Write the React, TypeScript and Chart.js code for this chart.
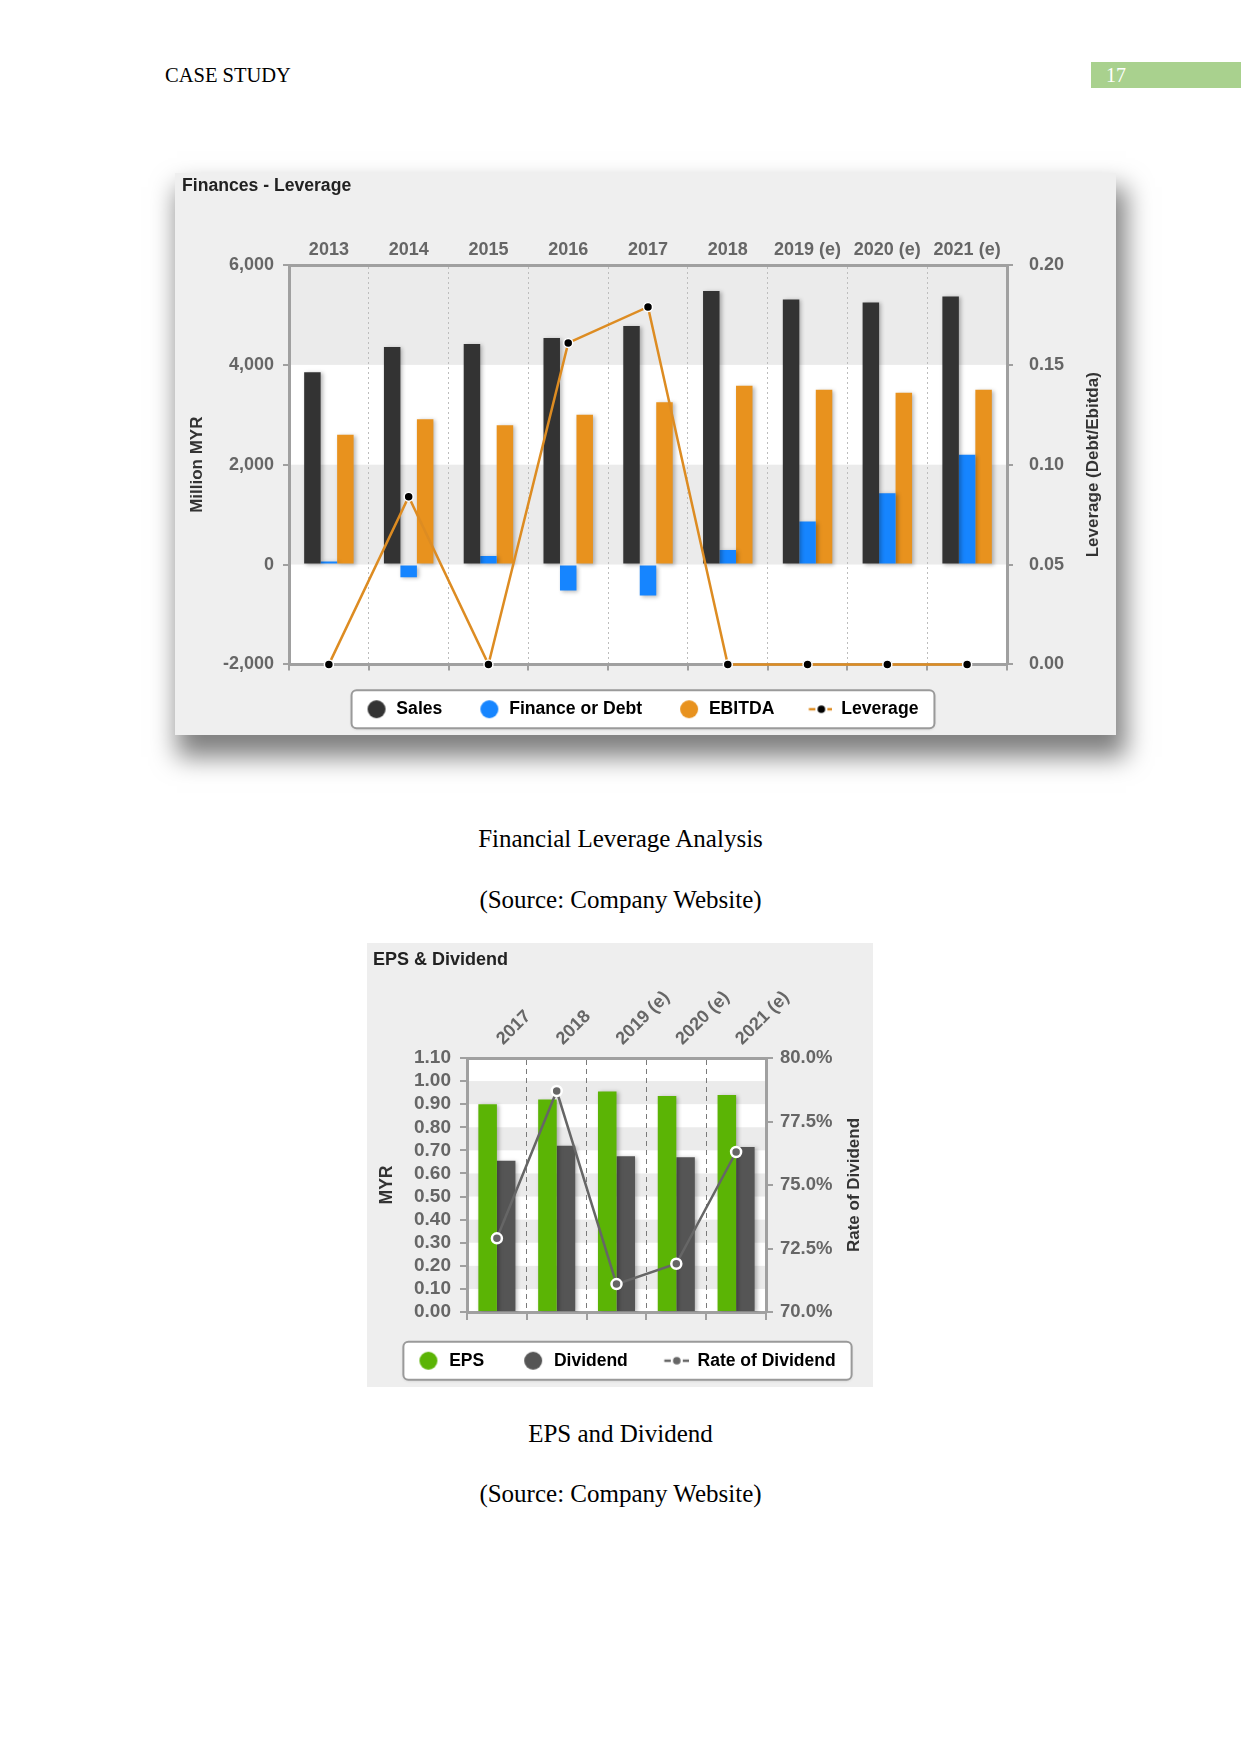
import React, { useEffect, useRef } from "react";
import { Chart, registerables } from "chart.js";

Chart.register(...registerables);

const FONT = "'Liberation Sans', Arial, Helvetica, sans-serif";
const SERIF = "'Liberation Serif', 'Times New Roman', serif";

// ---------- Chart 1: Finances - Leverage ----------
const leverageYears = ["2013", "2014", "2015", "2016", "2017", "2018", "2019 (e)", "2020 (e)", "2021 (e)"];
const salesValues = [3850, 4360, 4420, 4540, 4780, 5480, 5310, 5250, 5370];
const financeValues = [60, -255, 170, -520, -620, 290, 860, 1430, 2200];
const ebitdaValues = [2600, 2910, 2790, 3000, 3250, 3580, 3500, 3440, 3500];
const leverageValues = [0, 0.084, 0, 0.161, 0.179, 0, 0, 0, 0];
const leverageLeftTicks = [-2000, 0, 2000, 4000, 6000];
const leverageRightTicks = [0, 0.05, 0.1, 0.15, 0.2];

// ---------- Chart 2: EPS & Dividend ----------
const epsYears = ["2017", "2018", "2019 (e)", "2020 (e)", "2021 (e)"];
const epsValues = [0.9, 0.92, 0.955, 0.935, 0.94];
const dividendValues = [0.655, 0.72, 0.675, 0.67, 0.715];
const rateValues = [72.9, 78.7, 71.1, 71.9, 76.3];
const epsLeftTicks = [0, 0.1, 0.2, 0.3, 0.4, 0.5, 0.6, 0.7, 0.8, 0.9, 1.0, 1.1];
const epsRightTicks = [70, 72.5, 75, 77.5, 80];

const C1 = { sales: "#333333", finance: "#1685ff", ebitda: "#e8921e", line: "#dd8c22" };
const C2 = { eps: "#5bb405", dividend: "#555555", line: "#666666" };

function circleIcon(w: number, cx: number, color: string) {
  const c = document.createElement("canvas");
  c.width = w;
  c.height = 22;
  const g = c.getContext("2d")!;
  g.fillStyle = color;
  g.beginPath();
  g.arc(cx, 11, 9, 0, Math.PI * 2);
  g.fill();
  return c;
}

function lineIcon(w: number, cx: number, lineColor: string, dotColor: string) {
  const c = document.createElement("canvas");
  c.width = w;
  c.height = 22;
  const g = c.getContext("2d")!;
  g.strokeStyle = lineColor;
  g.lineWidth = 2.5;
  g.beginPath();
  g.moveTo(cx - 12.5, 11);
  g.lineTo(cx - 6, 11);
  g.moveTo(cx + 6, 11);
  g.lineTo(cx + 12.5, 11);
  g.stroke();
  g.fillStyle = dotColor;
  g.beginPath();
  g.arc(cx, 11, 3.8, 0, Math.PI * 2);
  g.fill();
  return c;
}

function bandsPlugin(bands: [number, number, string][], base: string) {
  return {
    id: "bands",
    beforeDraw(chart: any) {
      const { ctx, chartArea } = chart;
      const y = chart.scales.y;
      ctx.save();
      ctx.fillStyle = base;
      ctx.fillRect(chartArea.left, chartArea.top, chartArea.right - chartArea.left, chartArea.bottom - chartArea.top);
      bands.forEach(([a, b, col]) => {
        const p1 = y.getPixelForValue(a);
        const p2 = y.getPixelForValue(b);
        ctx.fillStyle = col;
        ctx.fillRect(chartArea.left, Math.min(p1, p2), chartArea.right - chartArea.left, Math.abs(p2 - p1));
      });
      ctx.restore();
    },
  };
}

function legendBoxPlugin(iconOffset: number, pad: number, fontSize: number) {
  return {
    id: "legendBox",
    beforeDraw(chart: any) {
      const lg = chart.legend;
      if (!lg || !lg.lineWidths) return;
      const ctx = chart.ctx;
      const x0 = (lg.left + pad + lg.right - lg.lineWidths[0]) / 2;
      const left = x0 + iconOffset - 9 - 16;
      const right = x0 + lg.lineWidths[0] - pad + 16;
      const cy = lg.top + pad + fontSize / 2;
      ctx.save();
      ctx.shadowColor = "rgba(0,0,0,0.18)";
      ctx.shadowBlur = 3;
      ctx.shadowOffsetY = 1;
      ctx.beginPath();
      (ctx as any).roundRect(left, cy - 19, right - left, 38, 5);
      ctx.fillStyle = "#ffffff";
      ctx.fill();
      ctx.shadowColor = "transparent";
      ctx.lineWidth = 2;
      ctx.strokeStyle = "#9a9a9a";
      ctx.stroke();
      ctx.restore();
    },
  };
}

function rightTitlePlugin(text: string, x: number, size: number) {
  return {
    id: "rightTitle",
    afterDraw(chart: any) {
      const { ctx, chartArea } = chart;
      ctx.save();
      ctx.translate(x, (chartArea.top + chartArea.bottom) / 2);
      ctx.rotate(-Math.PI / 2);
      ctx.textAlign = "center";
      ctx.textBaseline = "middle";
      ctx.fillStyle = "#333333";
      ctx.font = `bold ${size}px ${FONT}`;
      ctx.fillText(text, 0, 0);
      ctx.restore();
    },
  };
}

const barShadowPlugin = {
  id: "barShadow",
  beforeDatasetDraw(chart: any, args: any) {
    const ctx = chart.ctx;
    ctx.save();
    if (args.meta.type === "bar") {
      ctx.shadowColor = "rgba(0,0,0,0.28)";
      ctx.shadowBlur = 4;
      ctx.shadowOffsetX = 2;
      ctx.shadowOffsetY = 1;
    }
  },
  afterDatasetDraw(chart: any) {
    chart.ctx.restore();
  },
};

function LeverageChart() {
  const ref = useRef<HTMLCanvasElement>(null);
  useEffect(() => {
    const tickFont = { family: FONT, size: 18, weight: "bold" as const };
    const axisCommon = {
      grid: { drawOnChartArea: false, drawTicks: true, tickLength: 6, color: "#a0a0a0", lineWidth: 2 },
      border: { display: true, color: "#a0a0a0", width: 3 },
    };
    const chart = new Chart(ref.current!, {
      type: "bar",
      data: {
        labels: leverageYears,
        datasets: [
          { type: "line" as const, label: "Leverage", data: leverageValues, xAxisID: "x", yAxisID: "y1", borderColor: C1.line, borderWidth: 2.5, pointRadius: 4.5, pointBackgroundColor: "#000", pointBorderColor: "#fff", pointBorderWidth: 1.5, tension: 0, order: 0, clip: false as any },
          { label: "Sales", data: salesValues, backgroundColor: C1.sales, xAxisID: "x", yAxisID: "y", order: 1, categoryPercentage: 0.62, barPercentage: 1 },
          { label: "Finance or Debt", data: financeValues, backgroundColor: C1.finance, xAxisID: "x", yAxisID: "y", order: 1, categoryPercentage: 0.62, barPercentage: 1 },
          { label: "EBITDA", data: ebitdaValues, backgroundColor: C1.ebitda, xAxisID: "x", yAxisID: "y", order: 1, categoryPercentage: 0.62, barPercentage: 1 },
        ],
      },
      options: {
        animation: false,
        responsive: false,
        devicePixelRatio: 1,
        layout: { padding: { left: 7, right: 40, top: 0, bottom: 7 } },
        plugins: {
          title: { display: true, text: "Finances - Leverage", align: "start", color: "#222222", font: { family: FONT, size: 17.6, weight: "bold" }, padding: { top: 2.5, bottom: 0 } },
          legend: {
            position: "bottom",
            labels: {
              usePointStyle: true,
              pointStyleWidth: 48,
              padding: 10,
              color: "#3a3a3a",
              font: { family: FONT, size: 17.6, weight: "bold" },
              generateLabels: () => [
                { text: "Sales", pointStyle: circleIcon(48, 37, C1.sales) as any, fillStyle: C1.sales, strokeStyle: C1.sales, lineWidth: 0, hidden: false, datasetIndex: 1 },
                { text: "Finance or Debt", pointStyle: circleIcon(48, 37, C1.finance) as any, fillStyle: C1.finance, strokeStyle: C1.finance, lineWidth: 0, hidden: false, datasetIndex: 2 },
                { text: "EBITDA", pointStyle: circleIcon(48, 37, C1.ebitda) as any, fillStyle: C1.ebitda, strokeStyle: C1.ebitda, lineWidth: 0, hidden: false, datasetIndex: 3 },
                { text: "Leverage", pointStyle: lineIcon(48, 37, C1.line, "#000") as any, fillStyle: C1.line, strokeStyle: C1.line, lineWidth: 0, hidden: false, datasetIndex: 0 },
              ],
            },
          },
          tooltip: { enabled: false },
        },
        scales: {
          x: {
            type: "category",
            position: "top",
            offset: true,
            grid: { offset: true, drawOnChartArea: true, drawTicks: false, color: "#bdbdbd", lineWidth: 1 },
            border: { display: true, color: "#a0a0a0", width: 3, dash: [2, 3] },
            ticks: { color: "#666666", font: tickFont, padding: 4, maxRotation: 0, autoSkip: false },
            afterFit: (s: any) => { s.height = 68.4; },
          },
          x2: {
            type: "category",
            position: "bottom",
            offset: true,
            labels: leverageYears,
            grid: { offset: true, drawOnChartArea: false, drawTicks: true, tickLength: 6, color: "#a0a0a0", lineWidth: 2 },
            border: { display: true, color: "#a0a0a0", width: 3 },
            ticks: { display: false },
            afterFit: (s: any) => { s.height = 26; },
          },
          y: {
            position: "left",
            min: leverageLeftTicks[0],
            max: leverageLeftTicks[leverageLeftTicks.length - 1],
            afterBuildTicks: (s: any) => { s.ticks = leverageLeftTicks.map((v) => ({ value: v })); },
            ticks: { color: "#666666", font: tickFont, padding: 9, autoSkip: false, callback: (v: any) => Number(v).toLocaleString("en-US") },
            title: { display: true, text: "Million MYR", color: "#333333", font: { family: FONT, size: 17, weight: "bold" }, padding: { top: 4.8, bottom: 0 } },
            ...axisCommon,
            afterFit: (s: any) => { s.width = 107; },
          },
          y1: {
            position: "right",
            min: leverageRightTicks[0],
            max: leverageRightTicks[leverageRightTicks.length - 1],
            afterBuildTicks: (s: any) => { s.ticks = leverageRightTicks.map((v) => ({ value: v })); },
            ticks: { color: "#666666", font: tickFont, padding: 16, autoSkip: false, callback: (v: any) => Number(v).toFixed(2) },
            ...axisCommon,
            afterFit: (s: any) => { s.width = 69; },
          },
        },
      } as any,
      plugins: [
        bandsPlugin([[2000, 4000, "#ffffff"], [-2000, 0, "#ffffff"]], "#ebebeb"),
        legendBoxPlugin(37, 10, 17.6),
        rightTitlePlugin("Leverage (Debt/Ebitda)", 918, 17),
        barShadowPlugin,
      ],
    });
    return () => chart.destroy();
  }, []);
  return (
    <canvas
      ref={ref}
      width={941}
      height={562}
      style={{ position: "absolute", left: 175, top: 173, width: 941, height: 562, background: "#efefef", boxShadow: "6px 18px 24px 4px rgba(0,0,0,0.5)" }}
    />
  );
}

function EpsChart() {
  const ref = useRef<HTMLCanvasElement>(null);
  useEffect(() => {
    const tickFont = { family: FONT, size: 19, weight: "bold" as const };
    const chart = new Chart(ref.current!, {
      type: "bar",
      data: {
        labels: epsYears,
        datasets: [
          { type: "line" as const, label: "Rate of Dividend", data: rateValues, xAxisID: "x", yAxisID: "y1", borderColor: C2.line, borderWidth: 2.5, pointRadius: 5, pointBackgroundColor: "#666666", pointBorderColor: "#ffffff", pointBorderWidth: 2.5, tension: 0, order: 0, clip: false as any },
          { label: "EPS", data: epsValues, backgroundColor: C2.eps, xAxisID: "x", yAxisID: "y", order: 1, categoryPercentage: 0.62, barPercentage: 1 },
          { label: "Dividend", data: dividendValues, backgroundColor: C2.dividend, xAxisID: "x", yAxisID: "y", order: 1, categoryPercentage: 0.62, barPercentage: 1 },
        ],
      },
      options: {
        animation: false,
        responsive: false,
        devicePixelRatio: 1,
        layout: { padding: { left: 6, right: 21, top: 0, bottom: 7.5 } },
        plugins: {
          title: { display: true, text: "EPS & Dividend", align: "start", color: "#222222", font: { family: FONT, size: 18, weight: "bold" }, padding: { top: 6, bottom: 0 } },
          legend: {
            position: "bottom",
            labels: {
              usePointStyle: true,
              pointStyleWidth: 51,
              padding: 10,
              color: "#333333",
              font: { family: FONT, size: 17.5, weight: "bold" },
              generateLabels: () => [
                { text: "EPS", pointStyle: circleIcon(51, 39, C2.eps) as any, fillStyle: C2.eps, strokeStyle: C2.eps, lineWidth: 0, hidden: false, datasetIndex: 1 },
                { text: "Dividend", pointStyle: circleIcon(51, 39, C2.dividend) as any, fillStyle: C2.dividend, strokeStyle: C2.dividend, lineWidth: 0, hidden: false, datasetIndex: 2 },
                { text: "Rate of Dividend", pointStyle: lineIcon(51, 39, "#666666", "#666666") as any, fillStyle: C2.line, strokeStyle: C2.line, lineWidth: 0, hidden: false, datasetIndex: 0 },
              ],
            },
          },
          tooltip: { enabled: false },
        },
        scales: {
          x: {
            type: "category",
            position: "top",
            offset: true,
            grid: { offset: true, drawOnChartArea: true, drawTicks: false, color: "#7a7a7a", lineWidth: 1 },
            border: { display: true, color: "#a0a0a0", width: 3, dash: [5, 4] },
            ticks: { color: "#666666", font: { family: FONT, size: 18, weight: "bold" }, padding: 8.4, labelOffset: 18, minRotation: 45, maxRotation: 45, autoSkip: false },
            afterFit: (s: any) => { s.height = 87.4; },
          },
          x2: {
            type: "category",
            position: "bottom",
            offset: true,
            labels: epsYears,
            grid: { offset: true, drawOnChartArea: false, drawTicks: true, tickLength: 8, color: "#a0a0a0", lineWidth: 2 },
            border: { display: true, color: "#a0a0a0", width: 3 },
            ticks: { display: false },
            afterFit: (s: any) => { s.height = 30; },
          },
          y: {
            position: "left",
            min: 0,
            max: 1.1,
            afterBuildTicks: (s: any) => { s.ticks = epsLeftTicks.map((v) => ({ value: v })); },
            ticks: { color: "#666666", font: tickFont, padding: 9, autoSkip: false, callback: (v: any) => Number(v).toFixed(2) },
            title: { display: true, text: "MYR", color: "#333333", font: { family: FONT, size: 17.5, weight: "bold" }, padding: { top: 3.5, bottom: 0 } },
            grid: { drawOnChartArea: false, drawTicks: true, tickLength: 7, color: "#a0a0a0", lineWidth: 2 },
            border: { display: true, color: "#a0a0a0", width: 3 },
            afterFit: (s: any) => { s.width = 94; },
          },
          y1: {
            position: "right",
            min: 70,
            max: 80,
            afterBuildTicks: (s: any) => { s.ticks = epsRightTicks.map((v) => ({ value: v })); },
            ticks: { color: "#666666", font: { family: FONT, size: 18.5, weight: "bold" }, padding: 7, autoSkip: false, callback: (v: any) => Number(v).toFixed(1) + "%" },
            grid: { drawOnChartArea: false, drawTicks: true, tickLength: 7, color: "#a0a0a0", lineWidth: 2 },
            border: { display: true, color: "#a0a0a0", width: 3 },
            afterFit: (s: any) => { s.width = 86; },
          },
        },
      } as any,
      plugins: [
        bandsPlugin([[0.9, 1.0, "#ebebeb"], [0.7, 0.8, "#ebebeb"], [0.5, 0.6, "#ebebeb"], [0.3, 0.4, "#ebebeb"], [0.1, 0.2, "#ebebeb"]], "#ffffff"),
        legendBoxPlugin(39, 10, 17.5),
        rightTitlePlugin("Rate of Dividend", 487, 17),
        barShadowPlugin,
      ],
    });
    return () => chart.destroy();
  }, []);
  return (
    <canvas
      ref={ref}
      width={506}
      height={444}
      style={{ position: "absolute", left: 367, top: 943, width: 506, height: 444, background: "#eeeeee" }}
    />
  );
}

const captionStyle = (top: number): React.CSSProperties => ({
  position: "absolute",
  left: 0,
  top,
  width: 1241,
  textAlign: "center",
  fontFamily: SERIF,
  fontSize: 25,
  lineHeight: "28px",
  color: "#000",
});

export default function App() {
  return (
    <div style={{ position: "absolute", left: 0, top: 0, width: 1241, height: 1754, background: "#ffffff", overflow: "hidden" }}>
      <div style={{ position: "absolute", left: 165, top: 63, fontFamily: SERIF, fontSize: 20.5, lineHeight: "24px", color: "#000" }}>CASE STUDY</div>
      <div style={{ position: "absolute", left: 1091, top: 62, width: 150, height: 26, background: "#a9d18e" }}>
        <span style={{ position: "absolute", left: 15, top: 1, fontFamily: SERIF, fontSize: 20, lineHeight: "24px", color: "#ffffff" }}>17</span>
      </div>
      <LeverageChart />
      <div style={captionStyle(825)}>Financial Leverage Analysis</div>
      <div style={captionStyle(886)}>(Source: Company Website)</div>
      <EpsChart />
      <div style={captionStyle(1420)}>EPS and Dividend</div>
      <div style={captionStyle(1480)}>(Source: Company Website)</div>
    </div>
  );
}
